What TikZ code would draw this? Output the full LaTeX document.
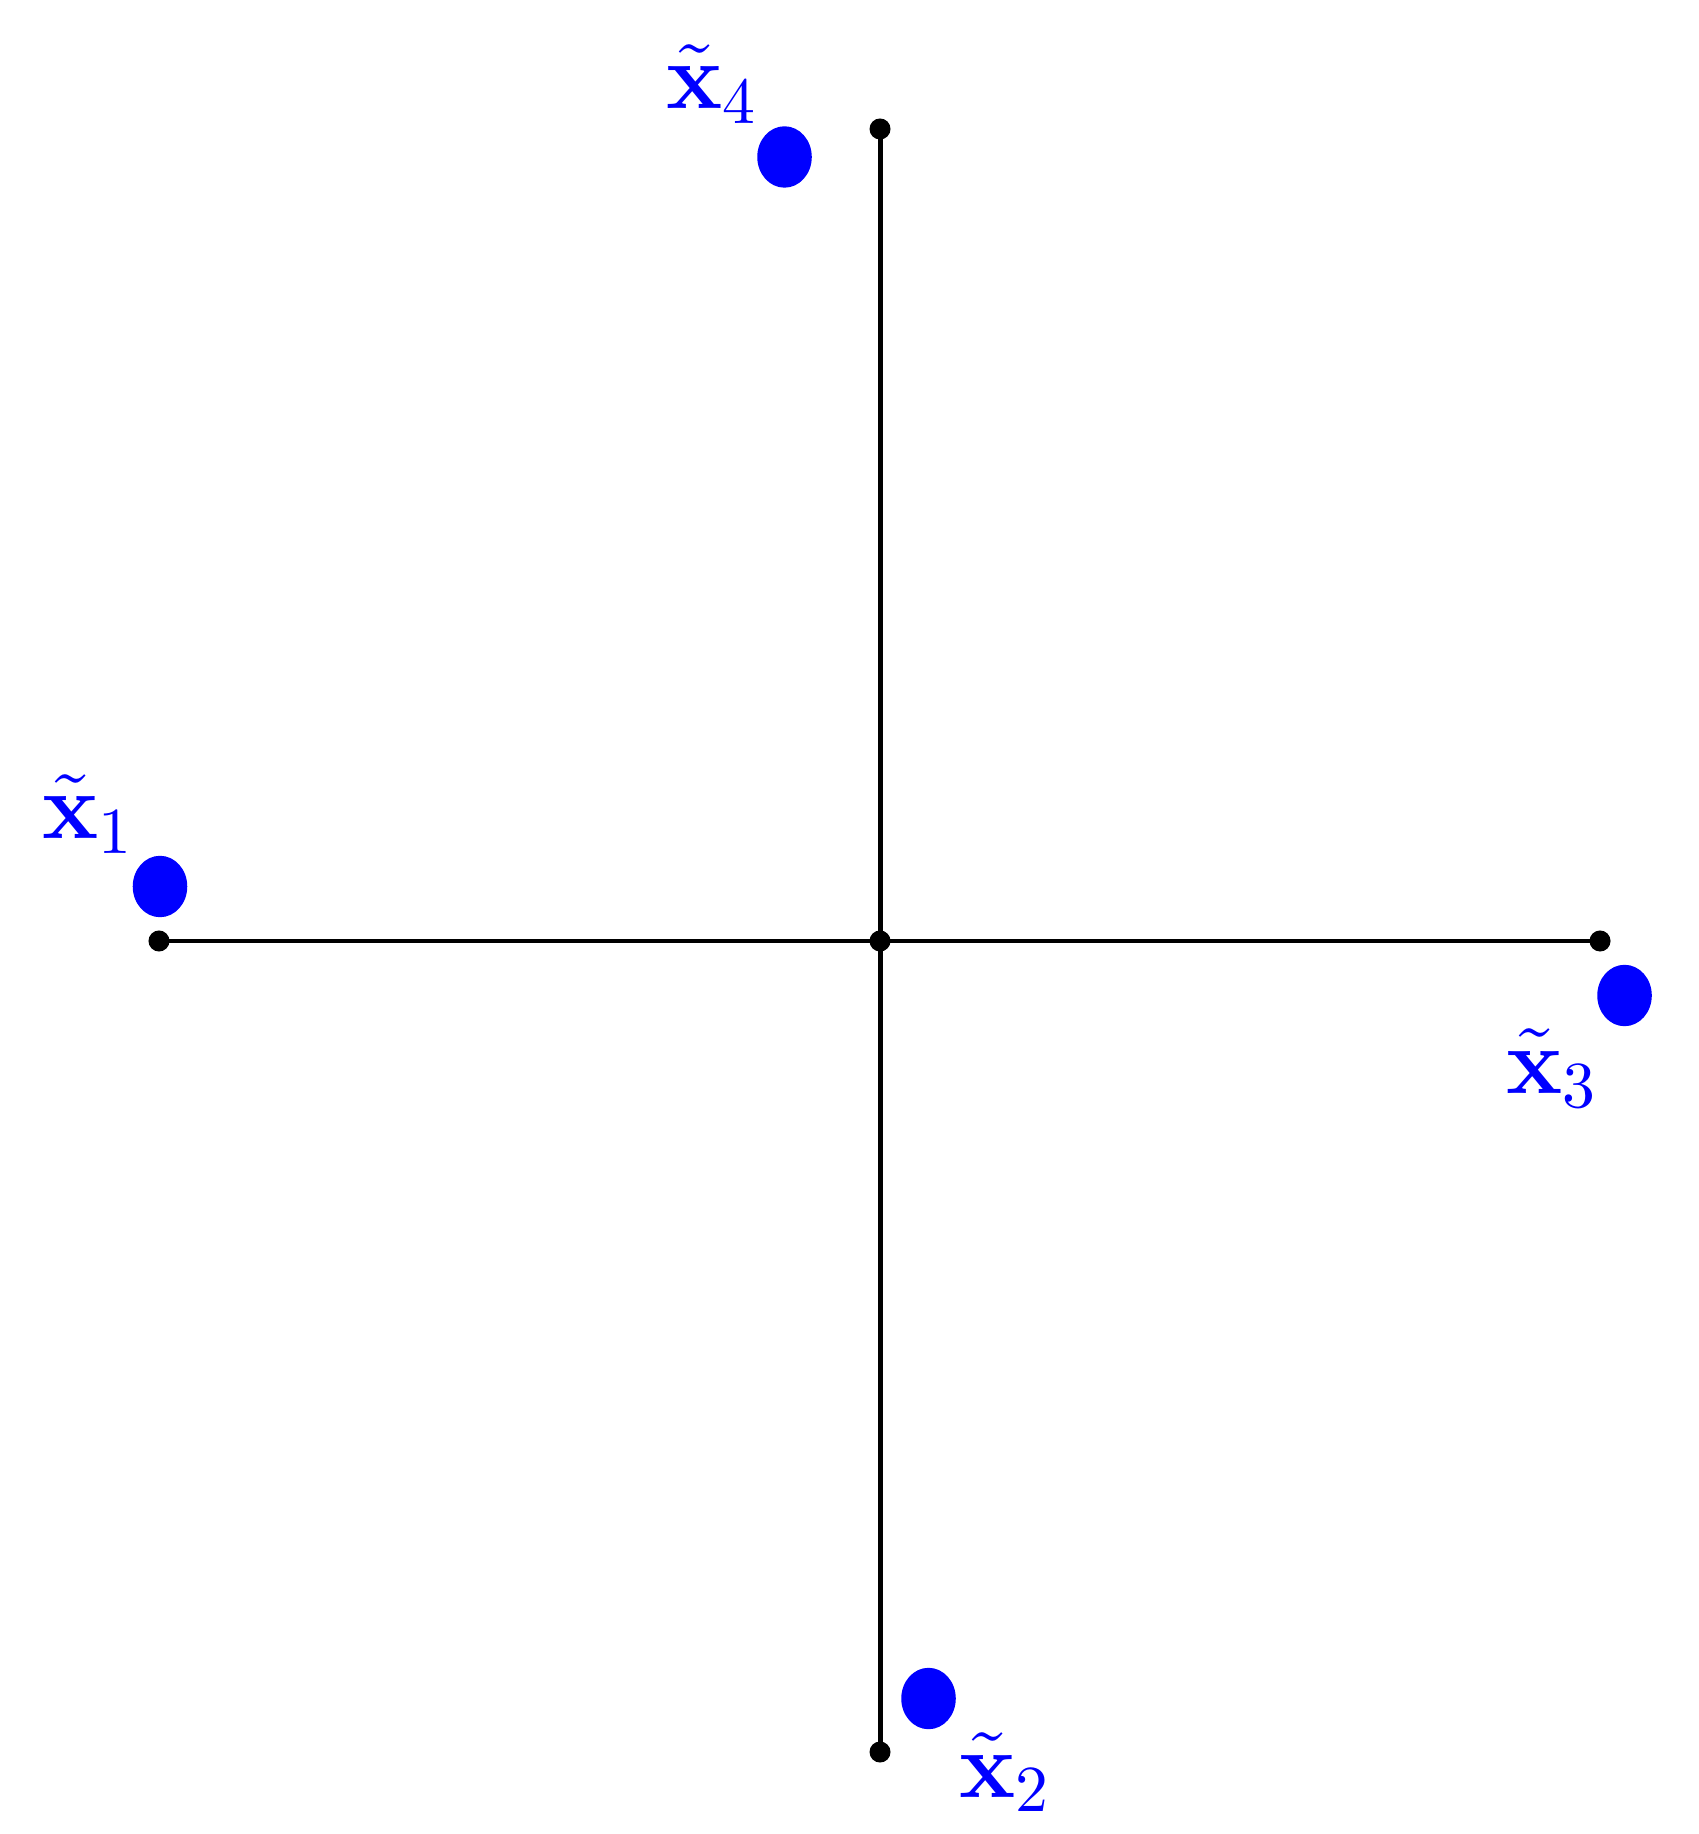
\documentclass[tikz,border=0pt]{standalone}
\usetikzlibrary{shapes.geometric}
\begin{document}
\begin{tikzpicture}[x=0.1522pt,y=-0.1522pt,
  bdot/.style={circle,fill=black,inner sep=0pt,minimum size=3.2pt},
  pdot/.style={ellipse,fill=blue,inner sep=0pt,minimum width=8.3pt,minimum height=9.35pt},
  lab/.style={text=blue,inner sep=0pt,anchor=base west,font=\Large},
  axis/.style={line width=0.76pt,black}]
\useasboundingbox (0,0) rectangle (1698,1834);
\node[bdot] (c) at (880,941) {};
\node[bdot] (l) at (159,941) {};
\node[bdot] (r) at (1600,941) {};
\node[bdot] (t) at (880,129) {};
\node[bdot] (b) at (880,1752) {};
\draw[axis] (l.center) -- (r.center);
\draw[axis] (t.center) -- (b.center);
\node[pdot] (p1) at (160,886.5) {};
\node[pdot] (p4) at (784.5,157) {};
\node[pdot] (p3) at (1624.5,995.5) {};
\node[pdot] (p2) at (928.5,1698.5) {};
\node[lab] (l1) at (41,839) {$\tilde{\mathbf{x}}_1$};
\node[lab] (l4) at (665,109) {$\tilde{\mathbf{x}}_4$};
\node[lab] (l3) at (1505,1093) {$\tilde{\mathbf{x}}_3$};
\node[lab] (l2) at (958,1797) {$\tilde{\mathbf{x}}_2$};
\end{tikzpicture}
\end{document}
